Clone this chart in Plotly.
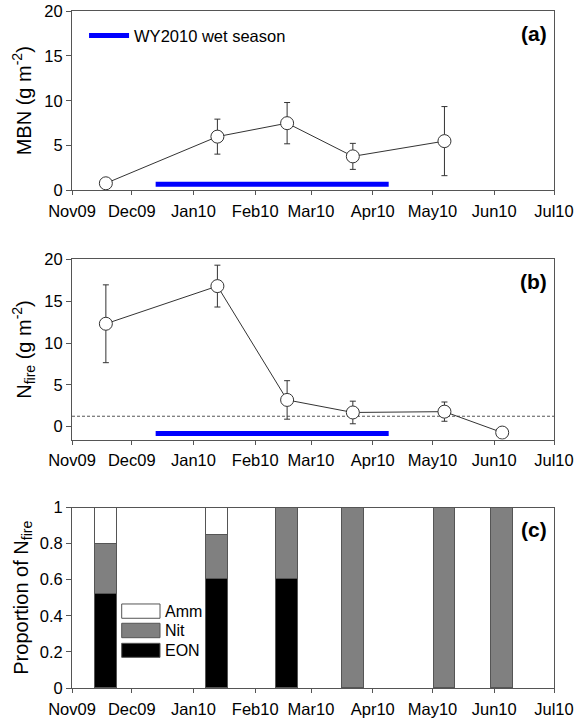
import plotly.graph_objects as go

# ---------------- data ----------------
sample_dates = ["2009-11-18", "2010-01-13", "2010-02-17", "2010-03-22", "2010-05-07", "2010-06-05"]

mbn_dates = sample_dates[:5]
mbn_values = [0.8, 6.0, 7.5, 3.8, 5.5]
mbn_err = [0.0, 1.95, 2.3, 1.45, 3.85]

nfire_values = [12.3, 16.8, 3.2, 1.7, 1.8, -0.7]
nfire_err = [4.65, 2.5, 2.3, 1.35, 1.15, 0.0]
nfire_threshold = 1.25

wet_season = ["2009-12-13", "2010-04-09"]
wet_season_y_a = 0.7
wet_season_y_b = -0.8

eon_prop = [0.525, 0.608, 0.604, None, None, None]
nit_prop = [0.275, 0.244, 0.396, 1.0, 1.0, 1.0]
amm_prop = [0.20, 0.148, None, None, None, None]

month_ticks = ["2009-11-01", "2009-12-01", "2010-01-01", "2010-02-01", "2010-03-01",
               "2010-04-01", "2010-05-01", "2010-06-01", "2010-07-01"]
month_labels = ["Nov09", "Dec09", "Jan10", "Feb10", "Mar10", "Apr10", "May10", "Jun10", "Jul10"]

bar_width_days = 11
# --------------------------------------

FONT = "Liberation Sans, Arial, Helvetica, sans-serif"
AXC = "#555555"
LINEC = "#333333"
BLUE = "#0000FF"
TICKSIZE = 16.5
TITLESIZE = 20

fig = go.Figure()

# Panel (a)
fig.add_trace(go.Scatter(x=wet_season, y=[wet_season_y_a] * 2, mode="lines",
                         line=dict(color=BLUE, width=5), name="WY2010 wet season",
                         showlegend=True, xaxis="x", yaxis="y"))
fig.add_trace(go.Scatter(x=mbn_dates, y=mbn_values, mode="lines+markers",
                         line=dict(color=LINEC, width=1),
                         marker=dict(symbol="circle", size=13, color="white",
                                     line=dict(color=LINEC, width=1)),
                         error_y=dict(type="data", array=mbn_err, color=LINEC,
                                      thickness=1, width=3),
                         showlegend=False, xaxis="x", yaxis="y"))

# Panel (b)
fig.add_trace(go.Scatter(x=wet_season, y=[wet_season_y_b] * 2, mode="lines",
                         line=dict(color=BLUE, width=5), showlegend=False,
                         xaxis="x2", yaxis="y2"))
fig.add_trace(go.Scatter(x=sample_dates, y=nfire_values, mode="lines+markers",
                         line=dict(color=LINEC, width=1),
                         marker=dict(symbol="circle", size=13, color="white",
                                     line=dict(color=LINEC, width=1)),
                         error_y=dict(type="data", array=nfire_err, color=LINEC,
                                      thickness=1, width=3),
                         showlegend=False, xaxis="x2", yaxis="y2"))
fig.add_shape(type="line", xref="x2 domain", x0=0, x1=1, yref="y2",
              y0=nfire_threshold, y1=nfire_threshold,
              line=dict(color="#555555", width=1, dash="3px,2px"), layer="below")

# Panel (c)
bar_w = bar_width_days * 86400000
series = [("EON", eon_prop, "black"), ("Nit", nit_prop, "#808080"), ("Amm", amm_prop, "white")]
for name, vals, col in series:
    fig.add_trace(go.Bar(x=sample_dates, y=vals, width=[bar_w] * len(sample_dates),
                         marker=dict(color=col, line=dict(color="#555555", width=1)),
                         name=name, showlegend=False, xaxis="x3", yaxis="y3"))

# Manual legend for panel (c) (large boxes)
leg_rows = [("Amm", "white", 0.1241, 0.1030), ("Nit", "#808080", 0.0956, 0.0743),
            ("EON", "black", 0.0660, 0.0453)]
for name, col, y1, y0 in leg_rows:
    fig.add_shape(type="rect", xref="paper", yref="paper", x0=0.1031, x1=0.1826,
                  y0=y0, y1=y1, fillcolor=col, line=dict(color="#555555", width=1))
    fig.add_annotation(xref="paper", yref="paper", x=0.1894, y=(y0 + y1) / 2,
                       text=name, showarrow=False, xanchor="left", yanchor="middle",
                       font=dict(family=FONT, size=16, color="black"))

xcommon = dict(type="date", range=[month_ticks[0], month_ticks[-1]], tickmode="array",
               tickvals=month_ticks, ticktext=month_labels, showline=True, mirror=True,
               linecolor=AXC, linewidth=1, ticks="outside", ticklen=4, tickcolor=AXC,
               showgrid=False, zeroline=False, automargin=False,
               tickfont=dict(family=FONT, size=TICKSIZE, color="black"),
               ticklabelstandoff=2)
ycommon = dict(showline=True, mirror=True, linecolor=AXC, linewidth=1, ticks="outside",
               ticklen=5, tickcolor=AXC, showgrid=False, zeroline=False, automargin=False,
               tickfont=dict(family=FONT, size=TICKSIZE, color="black"))

fig.update_layout(
    width=578, height=724,
    margin=dict(l=72, r=24, t=11, b=36),
    paper_bgcolor="white", plot_bgcolor="white",
    font=dict(family=FONT, size=16, color="black"),
    barmode="stack", bargap=0,
    xaxis=dict(**xcommon, anchor="y"),
    xaxis2=dict(**xcommon, anchor="y2"),
    xaxis3=dict(**xcommon, anchor="y3"),
    yaxis=dict(**ycommon, domain=[0.7349, 1.0], range=[0, 20], tickvals=[0, 5, 10, 15, 20],
               anchor="x", title=dict(text="MBN (g m<sup>-2</sup>)", standoff=7,
                                      font=dict(family=FONT, size=TITLESIZE))),
    yaxis2=dict(**ycommon, domain=[0.3668, 0.6332], range=[-1.55, 20], tickvals=[0, 5, 10, 15, 20],
                anchor="x2", title=dict(text="N<sub>fire</sub> (g m<sup>-2</sup>)", standoff=7,
                                        font=dict(family=FONT, size=TITLESIZE))),
    yaxis3=dict(**ycommon, domain=[0, 0.2666], range=[0, 1],
                tickvals=[0, 0.2, 0.4, 0.6, 0.8, 1], ticktext=["0", "0.2", "0.4", "0.6", "0.8", "1"],
                anchor="x3", title=dict(text="Proportion of N<sub>fire</sub>", standoff=5,
                                        font=dict(family=FONT, size=TITLESIZE))),
    legend=dict(x=0.025, y=0.9635, xanchor="left", yanchor="middle", bgcolor="rgba(0,0,0,0)",
                borderwidth=0, font=dict(family=FONT, size=16.5, color="black"),
                itemwidth=40),
)

for lbl, ypos in [("(a)", 0.9675), ("(b)", 0.6007), ("(c)", 0.2341)]:
    fig.add_annotation(xref="paper", yref="paper", x=0.9896, y=ypos, text="<b>%s</b>" % lbl,
                       showarrow=False, xanchor="right", yanchor="middle",
                       font=dict(family=FONT, size=21, color="black"))

fig.write_html("out.html")
